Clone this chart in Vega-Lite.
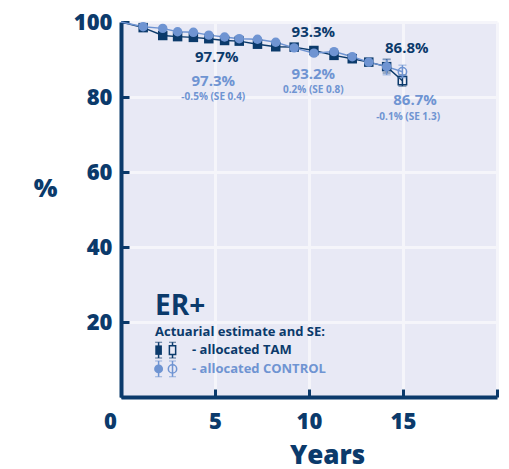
{
  "$schema": "https://vega.github.io/schema/vega-lite/v6.json",
  "width": 376,
  "height": 375,
  "autosize": {"type": "none"},
  "padding": {"left": 121, "top": 22, "right": 12, "bottom": 72},
  "background": "white",
  "view": {"fill": "#e8e9f5", "stroke": null},
  "config": {
    "font": "Open Sans",
    "axis": {
      "domainColor": "#0b3a6b",
      "domainWidth": 4,
      "tickColor": "#0b3a6b",
      "tickWidth": 3,
      "tickSize": -8,
      "gridColor": "#f5f5fa",
      "gridWidth": 3,
      "labelColor": "#0b3a6b",
      "labelFont": "Open Sans",
      "labelFontWeight": 800,
      "labelFontSize": 22,
      "labelFlush": false,
      "titleColor": "#0b3a6b",
      "titleFont": "Open Sans",
      "titleFontWeight": 800
    }
  },
  "datasets": {
    "tam": [
      {"year": 0, "pct": 100},
      {"year": 1.18, "pct": 98.5},
      {"year": 2.22, "pct": 96.4},
      {"year": 3.01, "pct": 96.1},
      {"year": 3.85, "pct": 95.9},
      {"year": 4.67, "pct": 95.55},
      {"year": 5.51, "pct": 95.07},
      {"year": 6.29, "pct": 94.9},
      {"year": 7.26, "pct": 94.08},
      {"year": 8.23, "pct": 93.4},
      {"year": 9.21, "pct": 93.3},
      {"year": 10.26, "pct": 92.4},
      {"year": 11.33, "pct": 91.1},
      {"year": 12.3, "pct": 90.2},
      {"year": 13.18, "pct": 89.3},
      {"year": 14.13, "pct": 88.1, "lo": 86.4, "hi": 90.1},
      {"year": 14.97, "pct": 84.35, "lo": 82.9, "hi": 85.9}
    ],
    "control": [
      {"year": 0, "pct": 100},
      {"year": 1.18, "pct": 98.75},
      {"year": 2.22, "pct": 98.3},
      {"year": 3.01, "pct": 97.4},
      {"year": 3.85, "pct": 97.25},
      {"year": 4.67, "pct": 96.5},
      {"year": 5.51, "pct": 96.0},
      {"year": 6.29, "pct": 95.55},
      {"year": 7.26, "pct": 95.4},
      {"year": 8.23, "pct": 94.6},
      {"year": 9.21, "pct": 93.1},
      {"year": 10.26, "pct": 91.7},
      {"year": 11.33, "pct": 92.1},
      {"year": 12.3, "pct": 90.75},
      {"year": 13.18, "pct": 89.3},
      {"year": 14.13, "pct": 88.1, "lo": 85.9, "hi": 89.9},
      {"year": 14.97, "pct": 86.75, "lo": 85.1, "hi": 88.5}
    ],
    "darkText": [
      {"year": 5.09, "pct": 90.75, "label": "97.7%"},
      {"year": 10.23, "pct": 97.4, "label": "93.3%"},
      {"year": 15.2, "pct": 93.1, "label": "86.8%"}
    ],
    "lightText": [
      {"year": 4.91, "pct": 84.3, "label": "97.3%"},
      {"year": 10.23, "pct": 86.05, "label": "93.2%"},
      {"year": 15.64, "pct": 79.2, "label": "86.7%"}
    ],
    "smallText": [
      {"year": 4.91, "pct": 80.1, "label": "-0.5% (SE 0.4)"},
      {"year": 10.23, "pct": 81.9, "label": "0.2% (SE 0.8)"},
      {"year": 15.27, "pct": 74.7, "label": "-0.1% (SE 1.3)"}
    ],
    "legSym": [
      {"year": 2.0, "pct": 12.5, "lo": 10.4, "hi": 14.6, "grp": "TAM", "fill": "filled"},
      {"year": 2.74, "pct": 12.5, "lo": 10.4, "hi": 14.6, "grp": "TAM", "fill": "open"},
      {"year": 2.0, "pct": 7.5, "lo": 5.4, "hi": 9.6, "grp": "CONTROL", "fill": "filled"},
      {"year": 2.74, "pct": 7.5, "lo": 5.4, "hi": 9.6, "grp": "CONTROL", "fill": "open"}
    ]
  },
  "layer": [
    {
      "data": {"name": "tam"},
      "mark": {"type": "line", "color": "#0b3a6b", "strokeWidth": 1.5},
      "encoding": {
        "x": {
          "field": "year", "type": "quantitative",
          "scale": {"domain": [0, 20], "nice": false},
          "axis": {
            "values": [0, 5, 10, 15, 20],
            "labelExpr": "datum.value == 20 ? '' : datum.label",
            "labelOffset": {"condition": {"test": "datum.value == 0", "value": -11}, "value": 0},
            "labelPadding": 22,
            "title": "Years",
            "titleFontSize": 26,
            "titleX": 206,
            "titleY": 66,
            "titleBaseline": "alphabetic"
          }
        },
        "y": {
          "field": "pct", "type": "quantitative",
          "scale": {"domain": [0, 100], "nice": false},
          "axis": {
            "values": [0, 20, 40, 60, 80, 100],
            "labelExpr": "datum.value == 0 ? '' : datum.label",
            "labelPadding": 17,
            "title": "%",
            "titleFontSize": 25,
            "titleAngle": 0,
            "titleX": -76,
            "titleY": 166,
            "titleAlign": "center",
            "titleBaseline": "middle"
          }
        }
      }
    },
    {
      "data": {"name": "control"},
      "mark": {"type": "line", "color": "#6f94d2", "strokeWidth": 1.5},
      "encoding": {
        "x": {"field": "year", "type": "quantitative", "title": "Years"},
        "y": {"field": "pct", "type": "quantitative", "title": "%"}
      }
    },
    {
      "data": {"name": "tam"},
      "transform": [{"filter": "datum.lo != null"}],
      "mark": {"type": "errorbar", "ticks": {"size": 8, "color": "#0b3a6b", "strokeWidth": 1.5}, "rule": {"color": "#0b3a6b", "strokeWidth": 1.5}},
      "encoding": {
        "x": {"field": "year", "type": "quantitative", "title": "Years"},
        "y": {"field": "lo", "type": "quantitative", "title": "%"},
        "y2": {"field": "hi"}
      }
    },
    {
      "data": {"name": "tam"},
      "transform": [{"filter": "datum.year > 0 && datum.year < 14.5"}],
      "mark": {"type": "point", "shape": "square", "filled": true, "color": "#0b3a6b", "size": 90, "opacity": 1},
      "encoding": {
        "x": {"field": "year", "type": "quantitative", "title": "Years"},
        "y": {"field": "pct", "type": "quantitative", "title": "%"}
      }
    },
    {
      "data": {"name": "tam"},
      "transform": [{"filter": "datum.year > 14.5"}],
      "mark": {"type": "point", "shape": "square", "filled": false, "color": "#0b3a6b", "size": 70, "strokeWidth": 1.5, "opacity": 1},
      "encoding": {
        "x": {"field": "year", "type": "quantitative", "title": "Years"},
        "y": {"field": "pct", "type": "quantitative", "title": "%"}
      }
    },
    {
      "data": {"name": "control"},
      "transform": [{"filter": "datum.lo != null"}],
      "mark": {"type": "errorbar", "ticks": {"size": 8, "color": "#6f94d2", "strokeWidth": 1.5}, "rule": {"color": "#6f94d2", "strokeWidth": 1.5}},
      "encoding": {
        "x": {"field": "year", "type": "quantitative", "title": "Years"},
        "y": {"field": "lo", "type": "quantitative", "title": "%"},
        "y2": {"field": "hi"}
      }
    },
    {
      "data": {"name": "control"},
      "transform": [{"filter": "datum.year > 0 && datum.year < 14.5"}],
      "mark": {"type": "point", "shape": "circle", "filled": true, "color": "#6f94d2", "size": 90, "opacity": 1},
      "encoding": {
        "x": {"field": "year", "type": "quantitative", "title": "Years"},
        "y": {"field": "pct", "type": "quantitative", "title": "%"}
      }
    },
    {
      "data": {"name": "control"},
      "transform": [{"filter": "datum.year > 14.5"}],
      "mark": {"type": "point", "shape": "circle", "filled": false, "color": "#6f94d2", "size": 70, "strokeWidth": 1.5, "opacity": 1},
      "encoding": {
        "x": {"field": "year", "type": "quantitative", "title": "Years"},
        "y": {"field": "pct", "type": "quantitative", "title": "%"}
      }
    },
    {
      "data": {"name": "darkText"},
      "mark": {"type": "text", "color": "#0b3a6b", "fontSize": 15, "fontWeight": "bold", "align": "center", "baseline": "middle"},
      "encoding": {
        "x": {"field": "year", "type": "quantitative", "title": "Years"},
        "y": {"field": "pct", "type": "quantitative", "title": "%"},
        "text": {"field": "label"}
      }
    },
    {
      "data": {"name": "lightText"},
      "mark": {"type": "text", "color": "#6f94d2", "fontSize": 15, "fontWeight": "bold", "align": "center", "baseline": "middle"},
      "encoding": {
        "x": {"field": "year", "type": "quantitative", "title": "Years"},
        "y": {"field": "pct", "type": "quantitative", "title": "%"},
        "text": {"field": "label"}
      }
    },
    {
      "data": {"name": "smallText"},
      "mark": {"type": "text", "color": "#6f94d2", "fontSize": 10, "fontWeight": "bold", "align": "center", "baseline": "middle"},
      "encoding": {
        "x": {"field": "year", "type": "quantitative", "title": "Years"},
        "y": {"field": "pct", "type": "quantitative", "title": "%"},
        "text": {"field": "label"}
      }
    },
    {
      "data": {"values": [{"year": 1.81, "pct": 23.9, "label": "ER+"}]},
      "mark": {"type": "text", "color": "#0b3a6b", "fontSize": 28, "fontWeight": "bold", "align": "left", "baseline": "middle"},
      "encoding": {
        "x": {"field": "year", "type": "quantitative", "title": "Years"},
        "y": {"field": "pct", "type": "quantitative", "title": "%"},
        "text": {"field": "label"}
      }
    },
    {
      "data": {"values": [
        {"year": 1.81, "pct": 17.3, "label": "Actuarial estimate and SE:"},
        {"year": 3.78, "pct": 12.5, "label": "- allocated TAM"}
      ]},
      "mark": {"type": "text", "color": "#0b3a6b", "fontSize": 13, "fontWeight": "bold", "align": "left", "baseline": "middle"},
      "encoding": {
        "x": {"field": "year", "type": "quantitative", "title": "Years"},
        "y": {"field": "pct", "type": "quantitative", "title": "%"},
        "text": {"field": "label"}
      }
    },
    {
      "data": {"values": [{"year": 3.78, "pct": 7.5, "label": "- allocated CONTROL"}]},
      "mark": {"type": "text", "color": "#6f94d2", "fontSize": 13, "fontWeight": "bold", "align": "left", "baseline": "middle"},
      "encoding": {
        "x": {"field": "year", "type": "quantitative", "title": "Years"},
        "y": {"field": "pct", "type": "quantitative", "title": "%"},
        "text": {"field": "label"}
      }
    },
    {
      "data": {"name": "legSym"},
      "transform": [{"filter": "datum.grp == 'TAM'"}],
      "mark": {"type": "errorbar", "ticks": {"size": 7, "color": "#0b3a6b", "strokeWidth": 1.5}, "rule": {"color": "#0b3a6b", "strokeWidth": 1.5}},
      "encoding": {
        "x": {"field": "year", "type": "quantitative", "title": "Years"},
        "y": {"field": "lo", "type": "quantitative", "title": "%"},
        "y2": {"field": "hi"}
      }
    },
    {
      "data": {"name": "legSym"},
      "transform": [{"filter": "datum.grp == 'CONTROL'"}],
      "mark": {"type": "errorbar", "ticks": {"size": 7, "color": "#6f94d2", "strokeWidth": 1.5}, "rule": {"color": "#6f94d2", "strokeWidth": 1.5}},
      "encoding": {
        "x": {"field": "year", "type": "quantitative", "title": "Years"},
        "y": {"field": "lo", "type": "quantitative", "title": "%"},
        "y2": {"field": "hi"}
      }
    },
    {
      "data": {"name": "legSym"},
      "transform": [{"filter": "datum.grp == 'TAM' && datum.fill == 'filled'"}],
      "mark": {"type": "point", "shape": "M-0.7,-1H0.7V1H-0.7Z", "filled": true, "color": "#0b3a6b", "size": 90, "opacity": 1},
      "encoding": {
        "x": {"field": "year", "type": "quantitative", "title": "Years"},
        "y": {"field": "pct", "type": "quantitative", "title": "%"}
      }
    },
    {
      "data": {"name": "legSym"},
      "transform": [{"filter": "datum.grp == 'TAM' && datum.fill == 'open'"}],
      "mark": {"type": "point", "shape": "M-0.7,-1H0.7V1H-0.7Z", "filled": false, "fill": "#e8e9f5", "color": "#0b3a6b", "size": 80, "strokeWidth": 1.5, "opacity": 1},
      "encoding": {
        "x": {"field": "year", "type": "quantitative", "title": "Years"},
        "y": {"field": "pct", "type": "quantitative", "title": "%"}
      }
    },
    {
      "data": {"name": "legSym"},
      "transform": [{"filter": "datum.grp == 'CONTROL' && datum.fill == 'filled'"}],
      "mark": {"type": "point", "shape": "circle", "filled": true, "color": "#6f94d2", "size": 80, "opacity": 1},
      "encoding": {
        "x": {"field": "year", "type": "quantitative", "title": "Years"},
        "y": {"field": "pct", "type": "quantitative", "title": "%"}
      }
    },
    {
      "data": {"name": "legSym"},
      "transform": [{"filter": "datum.grp == 'CONTROL' && datum.fill == 'open'"}],
      "mark": {"type": "point", "shape": "circle", "filled": false, "color": "#6f94d2", "size": 70, "strokeWidth": 1.5, "opacity": 1},
      "encoding": {
        "x": {"field": "year", "type": "quantitative", "title": "Years"},
        "y": {"field": "pct", "type": "quantitative", "title": "%"}
      }
    }
  ]
}
